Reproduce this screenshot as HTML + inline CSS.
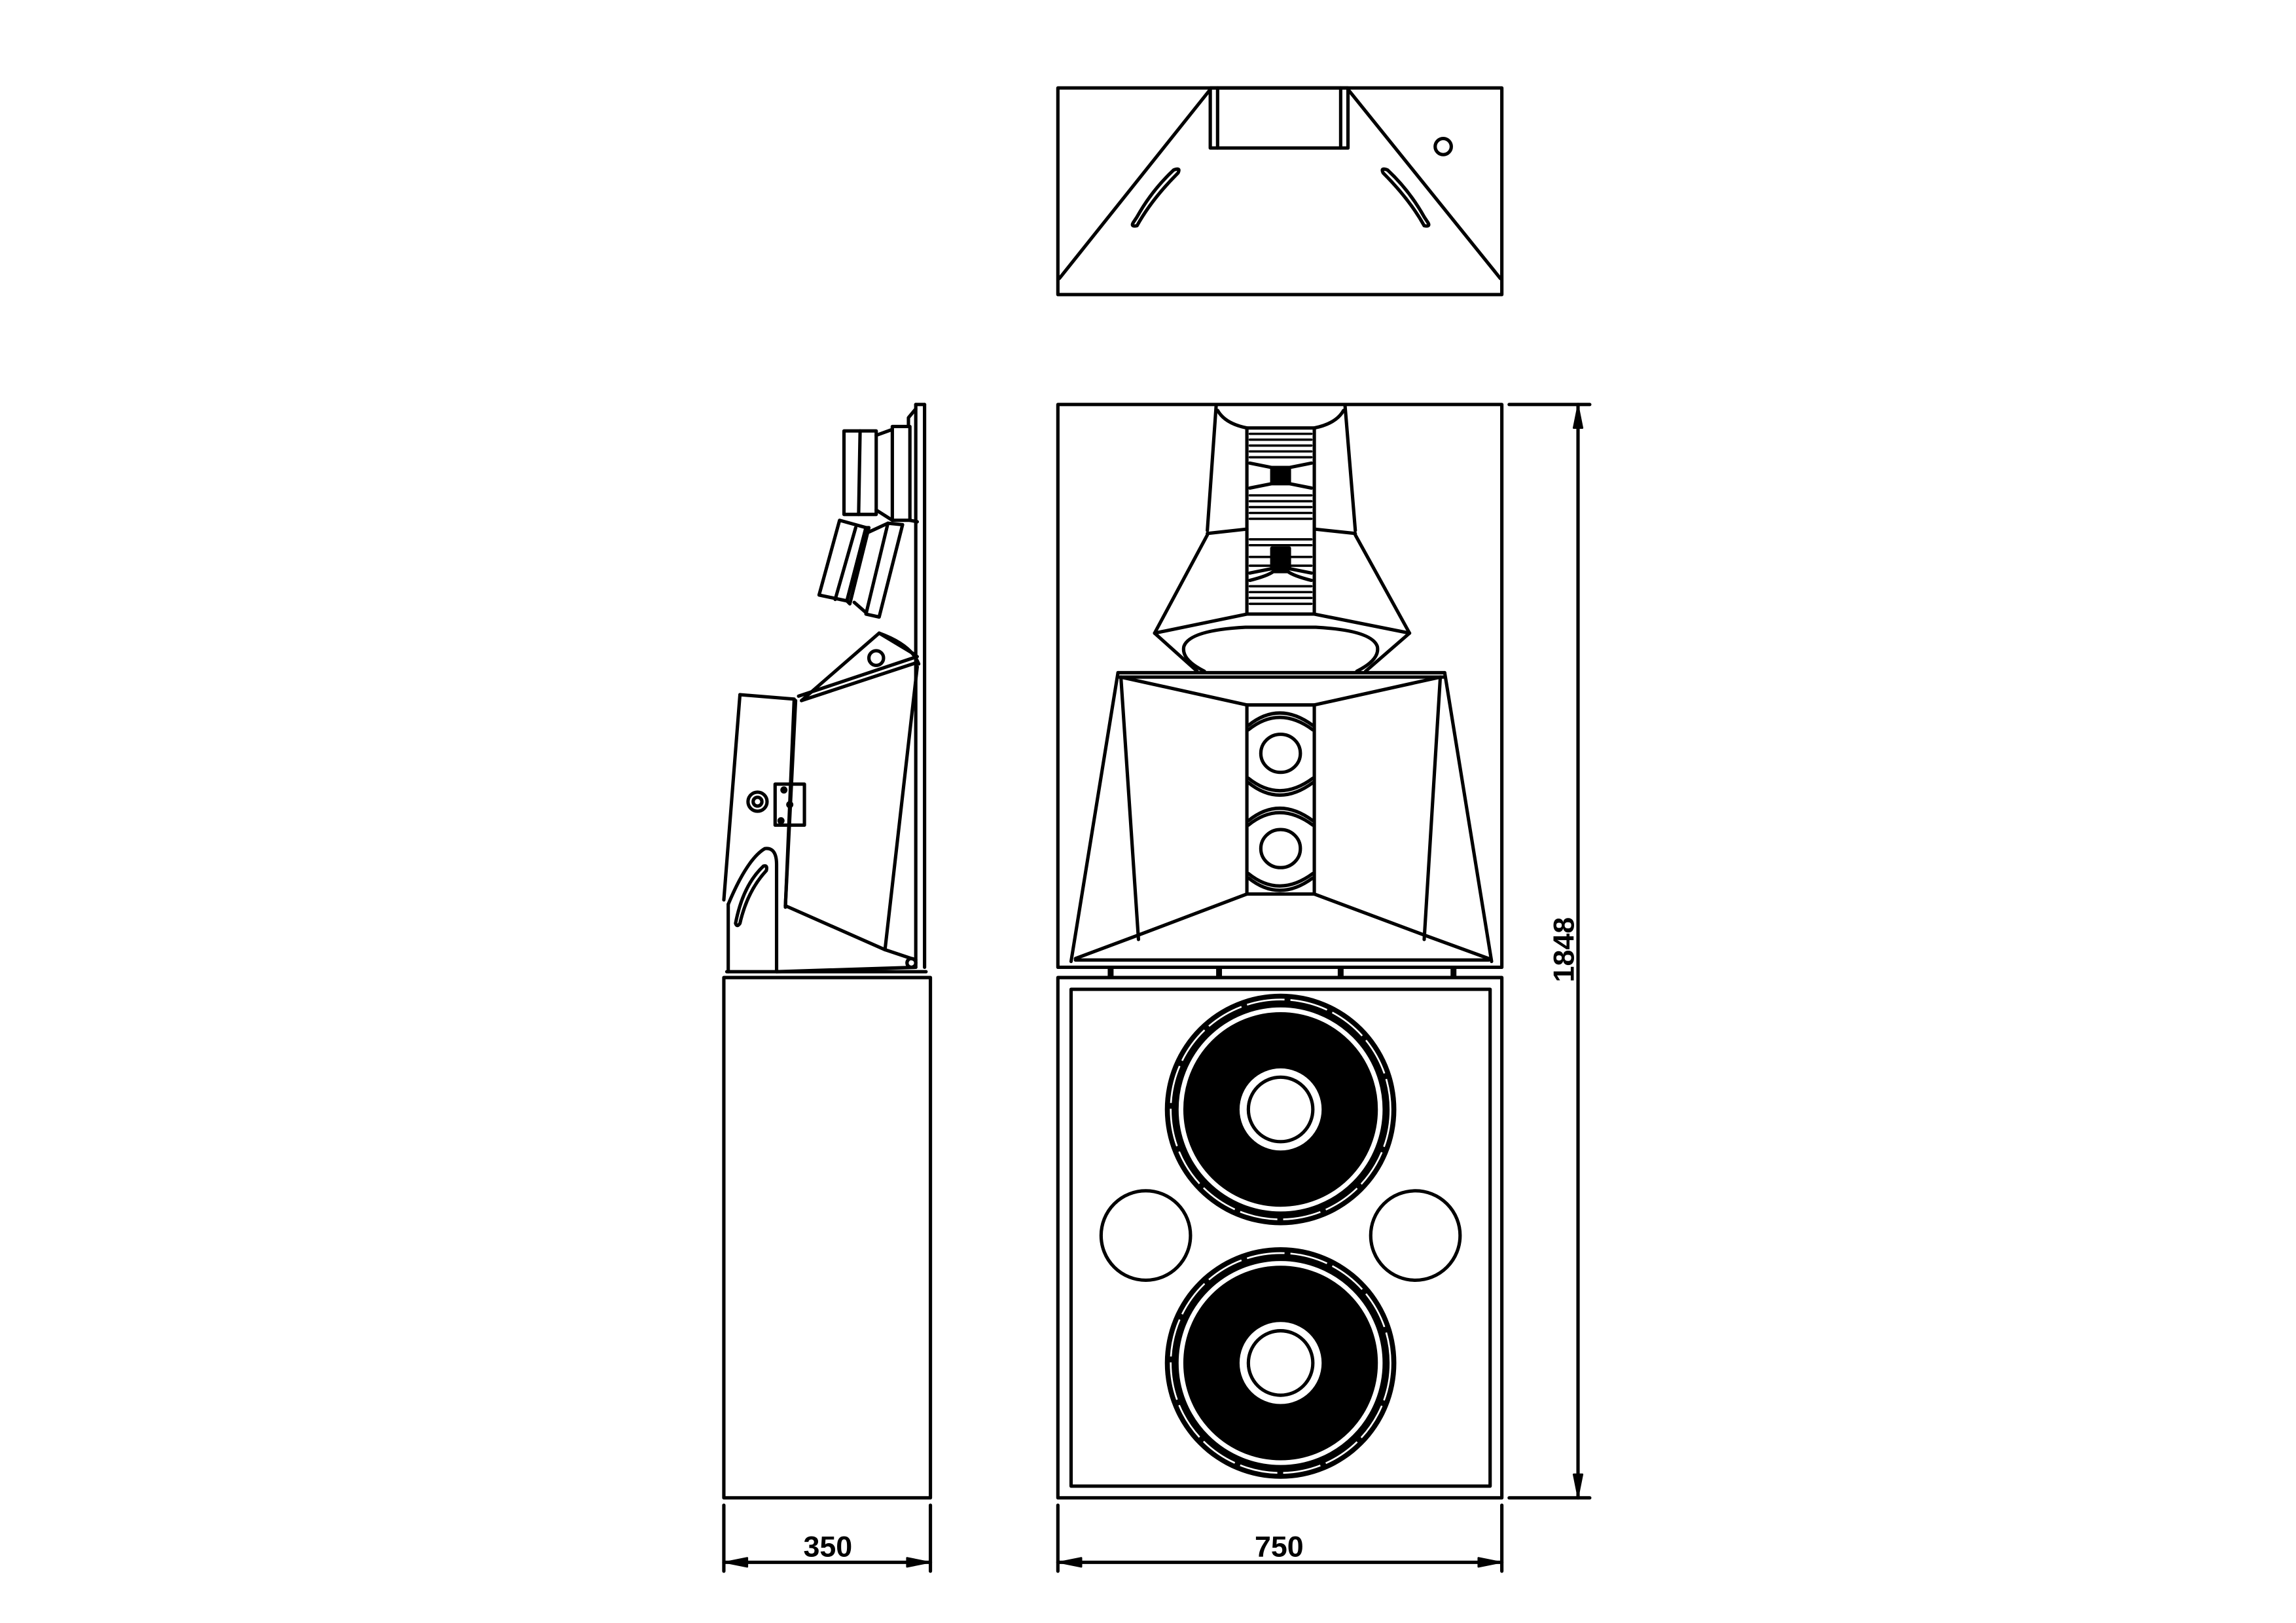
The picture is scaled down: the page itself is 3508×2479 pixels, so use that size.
<!DOCTYPE html>
<html><head><meta charset="utf-8"><style>html,body{margin:0;padding:0;background:#fff}svg{display:block}</style></head>
<body>
<svg width="3508" height="2479" viewBox="0 0 1567 1107.4" xmlns="http://www.w3.org/2000/svg">
<rect width="1567" height="1107.4" fill="#fff"/>
<g fill="none" stroke="#000" stroke-width="2.3" stroke-linejoin="round" stroke-linecap="round">
<!-- TOP VIEW -->
<rect x="722" y="60" width="303" height="141"/>
<rect x="826" y="60" width="94" height="41"/>
<line x1="831" y1="60" x2="831" y2="101"/>
<line x1="915" y1="60" x2="915" y2="101"/>
<line x1="826" y1="61" x2="723" y2="190"/>
<line x1="920" y1="61" x2="1024" y2="190"/>
<path d="M801,116 Q786,130 776,148 L774,151 Q771,155 776,154 Q786,136 804,118 Q806,114 801,116 Z"/>
<path d="M947,116 Q962,130 972,148 L974,151 Q977,155 972,154 Q962,136 944,118 Q942,114 947,116 Z"/>
<circle cx="985" cy="100" r="5.5"/>

<!-- FRONT UPPER -->
<rect x="722" y="276" width="303" height="384"/>
<line x1="830" y1="277" x2="824" y2="362"/>
<line x1="918" y1="277" x2="925" y2="362"/>
<path d="M831,280 Q836,289 851,292"/>
<path d="M917,280 Q912,289 897,292"/>
<rect x="851" y="292" width="46" height="127"/>
<g stroke-width="1.6">
<line x1="853" y1="296" x2="895" y2="296"/><line x1="853" y1="300" x2="895" y2="300"/><line x1="853" y1="304" x2="895" y2="304"/><line x1="853" y1="308" x2="895" y2="308"/><line x1="853" y1="312" x2="895" y2="312"/>
<line x1="853" y1="338" x2="895" y2="338"/><line x1="853" y1="342" x2="895" y2="342"/><line x1="853" y1="346" x2="895" y2="346"/><line x1="853" y1="350" x2="895" y2="350"/><line x1="853" y1="354" x2="895" y2="354"/>
<line x1="853" y1="368" x2="895" y2="368"/><line x1="853" y1="372" x2="895" y2="372"/><line x1="853" y1="380" x2="895" y2="380"/><line x1="853" y1="386" x2="895" y2="386"/>
<line x1="853" y1="400" x2="895" y2="400"/><line x1="853" y1="404" x2="895" y2="404"/><line x1="853" y1="408" x2="895" y2="408"/><line x1="853" y1="412" x2="895" y2="412"/>
</g>
<path d="M853,316 L868,319 L880,319 L895,316"/>
<path d="M853,333 L868,330 L880,330 L895,333"/>
<path d="M853,391 L868,388 L880,388 L895,391"/>
<path d="M853,396 Q865,393 869,390 L879,390 Q883,393 895,396"/>
<rect x="868" y="319" width="12" height="11" fill="#000"/>
<rect x="868" y="374" width="12" height="14" fill="#000"/>
<line x1="824" y1="364" x2="851" y2="361"/>
<line x1="897" y1="361" x2="925" y2="364"/>
<line x1="824" y1="365" x2="788" y2="432"/>
<line x1="925" y1="365" x2="962" y2="432"/>
<line x1="788" y1="432" x2="851" y2="419"/>
<line x1="897" y1="419" x2="962" y2="432"/>
<line x1="788" y1="432" x2="817" y2="458"/>
<line x1="962" y1="432" x2="932" y2="458"/>
<path d="M822,458 Q806,450 808,441 Q812,430 850,428 L898,428 Q936,430 940,441 Q942,450 926,458"/>
<!-- mid horn -->
<line x1="763" y1="459" x2="986" y2="459"/>
<line x1="764" y1="462" x2="985" y2="462"/>
<line x1="763" y1="459" x2="731" y2="656"/>
<line x1="986" y1="459" x2="1018" y2="656"/>
<line x1="765" y1="462" x2="777" y2="641"/>
<line x1="983" y1="462" x2="972" y2="641"/>
<line x1="765" y1="462" x2="851" y2="481"/>
<line x1="983" y1="462" x2="897" y2="481"/>
<rect x="851" y="481" width="46" height="129"/>
<path d="M852,495 Q873,478 896,495"/><path d="M852,498 Q873,481 896,498"/>
<path d="M852,531 Q873,548 896,531"/><path d="M852,534 Q873,551 896,534"/>
<path d="M852,560 Q873,543 896,560"/><path d="M852,563 Q873,546 896,563"/>
<path d="M852,596 Q873,613 896,596"/><path d="M852,599 Q873,616 896,599"/>
<ellipse cx="874" cy="514" rx="13.5" ry="13"/>
<ellipse cx="874" cy="579" rx="13.5" ry="13"/>
<line x1="851" y1="610" x2="777" y2="638"/>
<line x1="777" y1="638" x2="734" y2="654"/>
<line x1="897" y1="610" x2="972" y2="638"/>
<line x1="972" y1="638" x2="1016" y2="654"/>
<line x1="734" y1="655" x2="1016" y2="655"/>
<g fill="#000" stroke="none">
<rect x="756" y="659" width="4" height="7"/><rect x="830" y="659" width="4" height="7"/><rect x="913" y="659" width="4" height="7"/><rect x="990" y="659" width="4" height="7"/>
</g>

<!-- FRONT LOWER -->
<rect x="722" y="667" width="303" height="355"/>
<rect x="731" y="675" width="286" height="339"/>
<circle cx="782" cy="843" r="30.5"/>
<circle cx="966" cy="843" r="30.5"/>
</g>

<!-- woofers -->
<g>
<circle cx="874" cy="757" r="79" fill="#000"/>
<circle cx="874" cy="757" r="75" fill="none" stroke="#fff" stroke-width="1.2" stroke-dasharray="26 4"/>
<circle cx="874" cy="757" r="68" fill="none" stroke="#fff" stroke-width="3.2"/>
<circle cx="874" cy="757" r="28" fill="#fff"/>
<circle cx="874" cy="757" r="22" fill="none" stroke="#000" stroke-width="2.3"/>
<circle cx="874" cy="930" r="79" fill="#000"/>
<circle cx="874" cy="930" r="75" fill="none" stroke="#fff" stroke-width="1.2" stroke-dasharray="26 4"/>
<circle cx="874" cy="930" r="68" fill="none" stroke="#fff" stroke-width="3.2"/>
<circle cx="874" cy="930" r="28" fill="#fff"/>
<circle cx="874" cy="930" r="22" fill="none" stroke="#000" stroke-width="2.3"/>
</g>

<g fill="none" stroke="#000" stroke-width="2.3" stroke-linejoin="round" stroke-linecap="round">
<!-- SIDE VIEW -->
<rect x="494" y="667" width="141" height="355"/>
<line x1="625" y1="276" x2="625" y2="660"/>
<line x1="631" y1="276" x2="631" y2="660"/>
<line x1="625" y1="276" x2="631" y2="276"/>
<path d="M625,279 L620,285 L620,291"/>
<rect x="576" y="294" width="22" height="57"/>
<line x1="587" y1="294" x2="586" y2="351"/>
<rect x="609" y="291" width="12" height="64"/>
<line x1="598" y1="297" x2="609" y2="293"/>
<line x1="598" y1="348" x2="609" y2="355"/>
<line x1="621" y1="355" x2="626" y2="356"/>
<path d="M573,355 L559,406 L578,410 L591,360 Z"/>
<path d="M591,360 L578,410 L580,412 L593,360 Z"/>
<line x1="584" y1="360" x2="570" y2="409"/>
<path d="M606,357 L591,419 L600,421 L616,358 Z"/>
<line x1="593" y1="363" x2="606" y2="357"/>
<line x1="583" y1="411" x2="591" y2="418"/>
<path d="M547,478 L600,432 L625,447"/>
<path d="M600,432 Q622,440 627,453"/>
<circle cx="598" cy="449" r="5"/>
<line x1="547" y1="478" x2="626" y2="452"/>
<line x1="545" y1="475" x2="626" y2="448"/>
<line x1="543" y1="478" x2="536" y2="618"/>
<line x1="626" y1="455" x2="604" y2="648"/>
<line x1="536" y1="618" x2="604" y2="648"/>
<line x1="604" y1="648" x2="625" y2="655"/>
<path d="M505,474 L542,477 L536,619"/>
<line x1="505" y1="474" x2="494" y2="614"/>
<circle cx="517" cy="547" r="6.5"/>
<circle cx="517" cy="547" r="3"/>
<rect x="529" y="535" width="20" height="28"/>
<circle cx="535" cy="539" r="1.3" fill="#000"/>
<circle cx="539" cy="549" r="1.3" fill="#000"/>
<circle cx="533" cy="560" r="1.3" fill="#000"/>
<path d="M497,617 Q510,586 522,579 Q530,578 530,590 L530,663"/>
<line x1="497" y1="617" x2="497" y2="663"/>
<path d="M502,630 Q507,604 521,591 Q524,590 523,594 Q510,608 505,630 Q503,633 502,630 Z"/>
<line x1="496" y1="663" x2="632" y2="663"/>
<line x1="530" y1="663" x2="625" y2="660"/>
<circle cx="622" cy="657" r="3"/>

<!-- DIMENSIONS -->
<line x1="494" y1="1027" x2="494" y2="1072"/>
<line x1="635" y1="1027" x2="635" y2="1072"/>
<line x1="494" y1="1066" x2="635" y2="1066"/>
<line x1="722" y1="1027" x2="722" y2="1072"/>
<line x1="1025" y1="1027" x2="1025" y2="1072"/>
<line x1="722" y1="1066" x2="1025" y2="1066"/>
<line x1="1030" y1="276" x2="1085" y2="276"/>
<line x1="1030" y1="1022" x2="1085" y2="1022"/>
<line x1="1077" y1="276" x2="1077" y2="1022"/>
</g>
<g fill="#000" stroke="#000" stroke-width="1.2" stroke-linejoin="round">
<path d="M495,1066 L510,1063 L510,1069 Z"/>
<path d="M634,1066 L619,1063 L619,1069 Z"/>
<path d="M723,1066 L738,1063 L738,1069 Z"/>
<path d="M1024,1066 L1009,1063 L1009,1069 Z"/>
<path d="M1077,277 L1074,292 L1080,292 Z"/>
<path d="M1077,1021 L1074,1006 L1080,1006 Z"/>
</g>
<g font-family="Liberation Sans Narrow, Liberation Sans, sans-serif" font-weight="bold" font-size="20" fill="#000">
<text x="565" y="1062" text-anchor="middle">350</text>
<text x="873" y="1062" text-anchor="middle">750</text>
<text x="0" y="0" text-anchor="middle" transform="translate(1074,648) rotate(-90)">1848</text>
</g>
</svg>
</body></html>
